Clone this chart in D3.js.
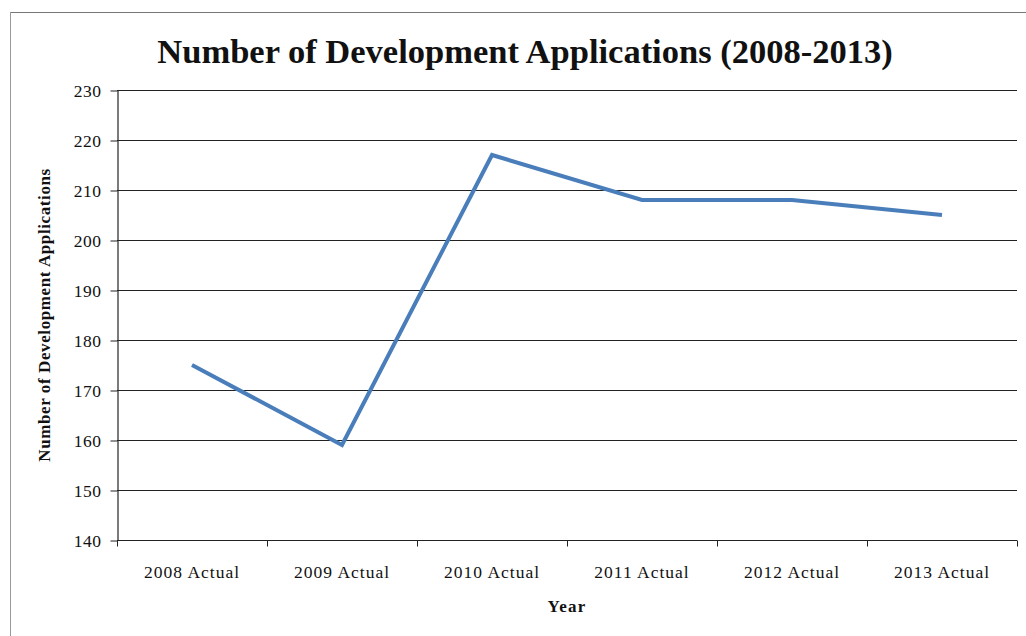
<!DOCTYPE html>
<html>
<head>
<meta charset="utf-8">
<script src="https://cdn.jsdelivr.net/npm/d3@7"></script>
<style>
  html, body { margin: 0; padding: 0; background: #fff; }
  svg text { font-family: "Liberation Serif", "Times New Roman", serif; fill: #111; }
</style>
</head>
<body>
<svg id="chart" width="1026" height="636"></svg>
<script>
// Development applications received per year
const categories = ["2008 Actual", "2009 Actual", "2010 Actual", "2011 Actual", "2012 Actual", "2013 Actual"];
const applications = [175, 159, 217, 208, 208, 205];
const yTicks = [140, 150, 160, 170, 180, 190, 200, 210, 220, 230];

const svg = d3.select("#chart");
const margin = { left: 117, right: 1017, top: 90, bottom: 540 };

const x = d3.scaleBand().domain(categories).range([margin.left, margin.right]);
const y = d3.scaleLinear().domain([140, 230]).range([margin.bottom, margin.top]);

// outer frame edges
svg.append("line").attr("x1", 10).attr("x2", 1026).attr("y1", 12.5).attr("y2", 12.5)
  .attr("stroke", "#777").attr("stroke-width", 1);
svg.append("line").attr("x1", 10.5).attr("x2", 10.5).attr("y1", 12).attr("y2", 636)
  .attr("stroke", "#999").attr("stroke-width", 1);

// title
svg.append("text")
  .attr("x", 525).attr("y", 63)
  .attr("text-anchor", "middle")
  .style("font-size", "34.5px").style("font-weight", "bold")
  .text("Number of Development Applications (2008-2013)");

// horizontal gridlines
svg.append("g").selectAll("line").data(yTicks.slice(1)).join("line")
  .attr("x1", margin.left).attr("x2", margin.right)
  .attr("y1", d => Math.round(y(d)) + 0.5).attr("y2", d => Math.round(y(d)) + 0.5)
  .attr("stroke", "#222").attr("stroke-width", 1.2);

// y axis
const yAxis = d3.axisLeft(y).tickValues(yTicks).tickSize(7).tickPadding(9).tickSizeOuter(0);
const gy = svg.append("g").attr("transform", `translate(${margin.left + 0.5},0.5)`).call(yAxis);
gy.attr("font-family", null).attr("font-size", null);
gy.select(".domain").attr("stroke", "#222").attr("stroke-width", 1.2);
gy.selectAll(".tick line").attr("stroke", "#222");
gy.selectAll(".tick text").attr("dy", "0.35em")
  .style("font-size", "17.5px").style("letter-spacing", "0.5px")
  .style("font-family", "'Liberation Serif', serif").style("fill", "#111");

// x axis with ticks between categories
const gx = svg.append("g").attr("transform", `translate(0,${margin.bottom + 0.5})`);
gx.append("line").attr("x1", margin.left).attr("x2", margin.right)
  .attr("stroke", "#222").attr("stroke-width", 1.2);
const boundaries = categories.map(c => x(c)).concat([x(categories[categories.length - 1]) + x.bandwidth()]);
gx.selectAll("line.tk").data(boundaries).join("line").attr("class", "tk")
  .attr("x1", d => Math.round(d) + 0.5).attr("x2", d => Math.round(d) + 0.5)
  .attr("y1", 0).attr("y2", 6).attr("stroke", "#222");
gx.selectAll("text").data(categories).join("text")
  .attr("x", d => x(d) + x.bandwidth() / 2)
  .attr("y", 37)
  .attr("text-anchor", "middle")
  .style("font-size", "17.5px").style("letter-spacing", "1px")
  .text(d => d);

// axis titles
svg.append("text")
  .attr("x", 567).attr("y", 612)
  .attr("text-anchor", "middle")
  .style("font-size", "17px").style("font-weight", "bold").style("letter-spacing", "1.2px")
  .text("Year");
svg.append("text")
  .attr("transform", "translate(50,315) rotate(-90)")
  .attr("text-anchor", "middle")
  .style("font-size", "17px").style("font-weight", "bold").style("letter-spacing", "0.6px")
  .text("Number of Development Applications");

// data line
const line = d3.line()
  .x((d, i) => x(categories[i]) + x.bandwidth() / 2)
  .y(d => y(d));
svg.append("path").datum(applications)
  .attr("d", line)
  .attr("fill", "none")
  .attr("stroke", "#4a7ebb")
  .attr("stroke-width", 4)
  .attr("stroke-linejoin", "miter");
</script>
</body>
</html>
